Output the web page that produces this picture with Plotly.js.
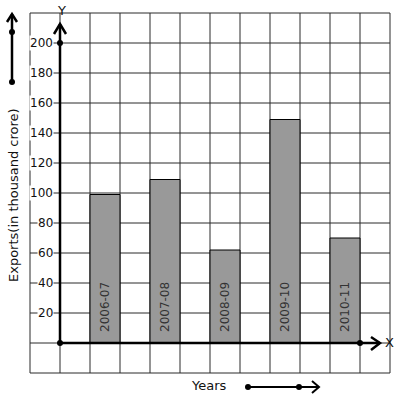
<!DOCTYPE html>
<html><head><meta charset="utf-8">
<script src="https://cdn.plot.ly/plotly-3.0.1.min.js"></script>
<style>html,body{margin:0;padding:0;background:#fff;}</style>
</head><body><div id="chart" style="width:397px;height:399px;"></div>
<script>
var years = ["2006-07", "2007-08", "2008-09", "2009-10", "2010-11"];
var exportsVals = [99, 109, 62, 149, 70];
var barPos = [1.5, 3.5, 5.5, 7.5, 9.5];
var yTickVals = [20, 40, 60, 80, 100, 120, 140, 160, 180, 200];
var yTitle = "Exports(in thousand crore)";
var xTitle = "Years";

// pixel helpers for decorations (plot area = whole figure)
function X(px){ return (px - 60) / 30; }
function Y(py){ return (343 - py) / 1.5; }

var FONT = "DejaVu Sans, sans-serif";
var shapes = [];
// grid
for (var i = -1; i <= 11; i++) {
  shapes.push({type:'line', layer:'below', x0:i, x1:i, y0:-20, y1:220, line:{color:'#2a2a2a', width:1}});
}
for (var v = -20; v <= 220; v += 20) {
  shapes.push({type:'line', layer:'below', x0:-1, x1:11, y0:v, y1:v, line:{color:'#2a2a2a', width:1}});
}
var ax = {color:'#000', width:2.5};
// Y axis
shapes.push({type:'line', x0:0, x1:0, y0:0, y1:Y(24), line:ax});
shapes.push({type:'path', path:'M '+X(54)+' '+Y(34)+' L '+X(60)+' '+Y(24)+' L '+X(66)+' '+Y(34), line:ax});
// X axis
shapes.push({type:'line', x0:0, x1:X(380), y0:0, y1:0, line:ax});
shapes.push({type:'path', path:'M '+X(371)+' '+Y(337)+' L '+X(380)+' '+Y(343)+' L '+X(371)+' '+Y(350), line:ax});
// left legend arrow
shapes.push({type:'line', x0:X(12), x1:X(12), y0:Y(82), y1:Y(14), line:ax});
shapes.push({type:'path', path:'M '+X(7)+' '+Y(22)+' L '+X(12)+' '+Y(14)+' L '+X(17)+' '+Y(22), line:ax});
// bottom legend arrow
shapes.push({type:'line', x0:X(248), x1:X(319), y0:Y(387), y1:Y(387), line:{color:'#000', width:2}});
shapes.push({type:'path', path:'M '+X(312)+' '+Y(381)+' L '+X(319)+' '+Y(387)+' L '+X(312)+' '+Y(393), line:{color:'#000', width:2}});

var annotations = yTickVals.map(function(t){
  return {x:X(54), y:t, xref:'x', yref:'y', text:String(t), showarrow:false, xanchor:'right', yanchor:'middle',
    font:{family:FONT, size:12, color:'#111'}, bgcolor:'#fff', borderpad:0};
});
// bar labels
years.forEach(function(lbl, k){
  annotations.push({x:barPos[k], y:0, text:lbl, textangle:-90, showarrow:false, xanchor:'center', yanchor:'bottom',
    yshift:9, font:{family:FONT, size:12, color:'#333'}});
});
annotations.push({x:X(61), y:Y(10), text:'Y', showarrow:false, font:{family:FONT, size:13, color:'#111'}, xanchor:'center', yanchor:'middle'});
annotations.push({x:X(389), y:Y(342), text:'X', showarrow:false, font:{family:FONT, size:13, color:'#111'}, xanchor:'center', yanchor:'middle'});
annotations.push({x:X(209), y:Y(385), text:xTitle, showarrow:false, font:{family:FONT, size:13, color:'#111'}, xanchor:'center', yanchor:'middle'});
annotations.push({x:X(13), y:Y(195), text:yTitle, textangle:-90, showarrow:false, font:{family:FONT, size:13, color:'#111'}, xanchor:'center', yanchor:'middle'});

var bars = {
  type:'bar', x:barPos, y:exportsVals, width:1,
  marker:{color:'#999999', line:{color:'#000', width:1}},
  hoverinfo:'skip'
};
var dots = {
  type:'scatter', mode:'markers',
  x:[0, 0, 10, X(12), X(12), X(248), X(299)],
  y:[0, 200, 0, Y(32), Y(82), Y(387), Y(387)],
  marker:{color:'#000', size:6}, hoverinfo:'skip', cliponaxis:false
};

var layout = {
  width:397, height:399,
  margin:{l:0, r:0, t:0, b:0, pad:0},
  paper_bgcolor:'#fff', plot_bgcolor:'#fff',
  showlegend:false,
  xaxis:{range:[-2, 337/30], showgrid:false, zeroline:false, showticklabels:false, showline:false, ticks:'', fixedrange:true},
  yaxis:{range:[(343-399)/1.5, 343/1.5], showgrid:false, zeroline:false, showticklabels:false, showline:false, ticks:'', fixedrange:true},
  shapes:shapes, annotations:annotations
};
Plotly.newPlot('chart', [bars, dots], layout, {displayModeBar:false, staticPlot:true});
</script></body></html>
